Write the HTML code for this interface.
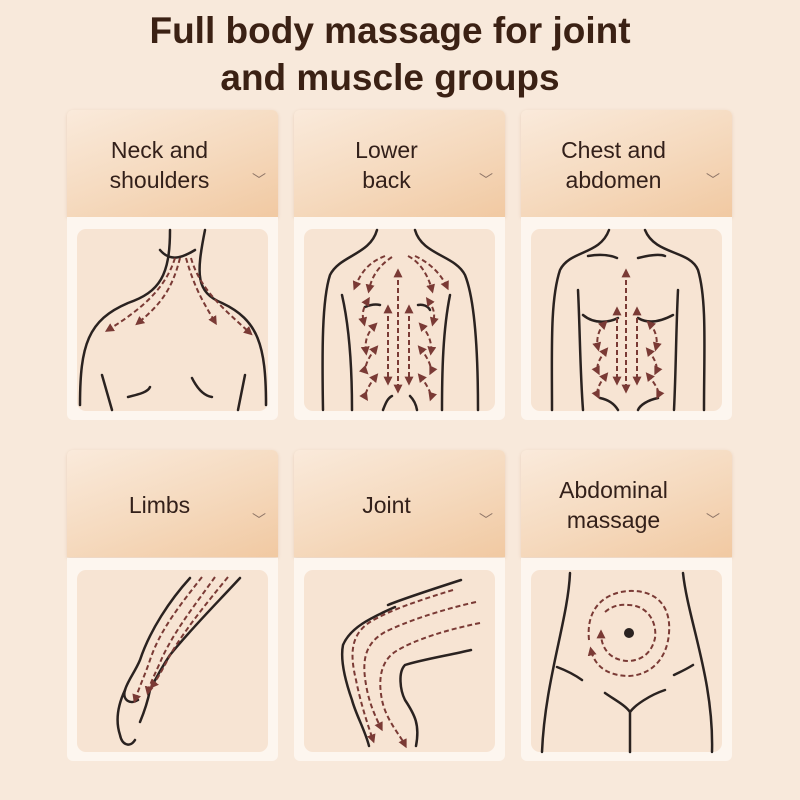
<!DOCTYPE html>
<html><head><meta charset="utf-8"><style>
body{margin:0;width:800px;height:800px;background:#f8e9db;position:relative;overflow:hidden;font-family:"Liberation Sans",sans-serif}
.t{position:absolute;left:0;width:780px;text-align:center;color:#3b2114;font-weight:bold;font-size:37px;line-height:47px;top:7px}
.h{position:absolute;width:211px;height:107px;border-radius:6px 6px 0 0;background:linear-gradient(160deg,#faeadb 0%,#f5d9bd 55%,#f1c9a2 100%);box-shadow:0 1px 3px rgba(200,150,110,.3)}
.h div{position:absolute;left:0;width:185px;text-align:center;color:#33201a;font-size:23px;line-height:30px}
.h span{position:absolute;right:12px;top:60px;color:#8d7466;font-size:14px}
.p{position:absolute;width:211px;height:203px;background:#fdf6ef;border-radius:0 0 6px 6px}
.p i{position:absolute;left:10px;top:12px;width:191px;height:182px;background:#f7e4d3;border-radius:9px}
</style></head><body>
<div class="t">Full body massage for joint<br>and muscle groups</div>

<div class="h" style="left:67px;top:110px"><div style="top:25px">Neck and<br>shoulders</div><span>﹀</span></div>
<div class="h" style="left:294px;top:110px"><div style="top:25px">Lower<br>back</div><span>﹀</span></div>
<div class="h" style="left:521px;top:110px"><div style="top:25px">Chest and<br>abdomen</div><span>﹀</span></div>
<div class="p" style="left:67px;top:217px"><i></i></div>
<div class="p" style="left:294px;top:217px"><i></i></div>
<div class="p" style="left:521px;top:217px"><i></i></div>

<div class="h" style="left:67px;top:450px"><div style="top:40px">Limbs</div><span>﹀</span></div>
<div class="h" style="left:294px;top:450px"><div style="top:40px">Joint</div><span>﹀</span></div>
<div class="h" style="left:521px;top:450px"><div style="top:25px">Abdominal<br>massage</div><span>﹀</span></div>
<div class="p" style="left:67px;top:558px"><i></i></div>
<div class="p" style="left:294px;top:558px"><i></i></div>
<div class="p" style="left:521px;top:558px"><i></i></div>

<svg width="800" height="800" style="position:absolute;left:0;top:0">
<defs><marker id="a" viewBox="0 0 10 10" refX="6" refY="5" markerWidth="4.5" markerHeight="4.5" orient="auto-start-reverse"><path d="M0,0L10,5L0,10z" fill="#7a3a35"/></marker></defs>
<g fill="none" stroke="#2a2220" stroke-width="2.5" stroke-linecap="round">
<path d="M80,405C80,345 88,320 128,303C160,292 170,275 170,230"/>
<path d="M266,405C266,345 258,320 222,303C196,292 196,275 205,230"/>
<path d="M160,250C170,262 182,258 195,250"/>
<path d="M102,375L112,410M245,375L238,410M128,397C140,394 148,392 150,387M192,378C198,390 205,396 212,397"/>
<path d="M377,230C370,255 340,255 330,275C322,300 322,350 323,410"/>
<path d="M415,230C422,255 455,255 465,275C475,300 478,350 478,410"/>
<path d="M342,295C350,330 352,370 352,410M450,295C443,330 442,370 442,410"/>
<path d="M365,307C372,304 376,304 380,305M418,305C423,304 428,306 430,310M383,410C386,402 388,398 392,396M410,396C414,400 416,404 417,410"/>
<path d="M609,230C600,255 570,250 560,270C550,300 552,350 552,410"/>
<path d="M645,230C655,255 690,250 698,270C707,300 704,350 704,410"/>
<path d="M588,256C600,254 610,255 617,258M638,258C650,255 660,254 665,256"/>
<path d="M578,290C580,330 580,370 583,410M678,290C676,330 676,370 674,410"/>
<path d="M583,315C595,325 610,322 618,318M638,318C648,324 660,322 673,315"/>
<path d="M600,398C610,400 615,405 618,410M658,398C648,400 640,405 638,410"/>
<path d="M190,578C170,600 150,630 140,660C135,672 128,680 125,690C118,705 115,720 120,735C122,745 130,748 135,740"/>
<path d="M240,578C215,605 190,630 170,655C160,670 155,680 150,690C148,700 145,710 140,722"/>
<path d="M125,690C122,700 130,705 138,700"/>
<path d="M461,580C430,590 400,600 388,605M395,607C370,618 350,628 343,645C340,660 345,680 352,700C356,715 365,730 369,746"/>
<path d="M471,650C450,655 420,660 405,665C398,672 400,690 405,700C415,715 420,725 416,746"/>
<path d="M570,573C568,620 545,680 542,752M683,573C688,620 714,680 712,752"/>
<path d="M557,667C565,670 575,675 582,680M693,665C685,670 680,672 674,675"/>
<path d="M605,693C615,700 625,705 630,712C635,705 650,695 665,690M630,712L630,752"/>
</g>
<circle cx="629" cy="633" r="5" fill="#2a2220"/>
<g fill="none" stroke="#7a3a35" stroke-width="2" stroke-dasharray="5 3" marker-end="url(#a)">
<path d="M175,258C165,290 140,310 108,330"/>
<path d="M180,258C172,290 160,305 138,323"/>
<path d="M186,258C195,290 205,305 215,322"/>
<path d="M191,258C200,290 225,310 250,333"/>
<path d="M398,272L398,390" marker-start="url(#a)"/>
<path d="M388,308L388,382" marker-start="url(#a)"/>
<path d="M409,308L409,382" marker-start="url(#a)"/>
<path d="M385,256C370,262 362,270 355,287"/>
<path d="M392,257C380,265 372,275 369,290"/>
<path d="M408,256C420,262 428,275 432,290"/>
<path d="M415,256C428,262 440,272 447,287"/>
<path d="M368,300C362,310 362,315 364,323" marker-start="url(#a)"/>
<path d="M428,300C435,310 435,315 433,323" marker-start="url(#a)"/>
<path d="M375,325C365,335 365,345 366,352" marker-start="url(#a)"/>
<path d="M421,325C430,335 432,345 431,352" marker-start="url(#a)"/>
<path d="M376,348C366,360 364,370 366,372" marker-start="url(#a)"/>
<path d="M420,348C430,360 432,370 431,372" marker-start="url(#a)"/>
<path d="M376,376C368,386 364,395 366,398" marker-start="url(#a)"/>
<path d="M420,376C428,386 432,395 431,398" marker-start="url(#a)"/>
<path d="M626,272L626,390" marker-start="url(#a)"/>
<path d="M617,310L617,382" marker-start="url(#a)"/>
<path d="M637,310L637,382" marker-start="url(#a)"/>
<path d="M605,323C598,330 596,340 598,348" marker-start="url(#a)"/>
<path d="M649,323C656,330 658,340 656,348" marker-start="url(#a)"/>
<path d="M606,350C598,360 596,368 598,372" marker-start="url(#a)"/>
<path d="M648,350C656,360 658,368 656,372" marker-start="url(#a)"/>
<path d="M606,375C598,385 596,392 598,396" marker-start="url(#a)"/>
<path d="M648,375C656,385 660,392 658,396" marker-start="url(#a)"/>
<path d="M202,577C180,605 160,630 150,660C145,675 140,685 135,700"/>
<path d="M215,577C195,605 175,630 162,658C157,670 150,683 148,692"/>
<path d="M228,577C205,605 185,630 170,655C165,665 157,680 152,686"/>
<path d="M453,590C420,600 390,610 370,622C350,635 350,655 356,680C360,700 366,720 373,740"/>
<path d="M476,602C440,610 405,622 385,632C362,645 362,665 367,690C370,705 376,718 381,728"/>
<path d="M480,623C445,630 415,640 398,650C380,660 378,680 382,700C386,720 400,735 405,745"/>
<path d="M589,640C585,600 615,590 634,591C660,592 671,610 669,633C667,660 650,675 629,676C610,676 595,668 591,650"/>
<path d="M605,612C612,606 620,604 629,605C650,606 657,625 655,638C652,652 643,660 629,661C612,661 601,650 601,633"/>
</g>
</svg>
</body></html>
